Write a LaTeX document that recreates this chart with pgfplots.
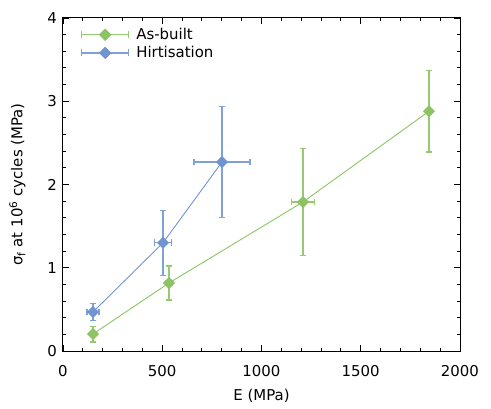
\documentclass[border=0pt]{standalone}
\usepackage{pgfplots}
\pgfplotsset{compat=1.18}
\usepackage{fontspec}
\setmainfont{DejaVu Sans}
\definecolor{cg}{RGB}{140,196,100}
\definecolor{cb}{RGB}{112,148,210}
\definecolor{cge}{RGB}{150,202,114}
\definecolor{cbe}{RGB}{128,160,216}
\newcommand{\fs}{\fontsize{15}{18}\selectfont}
\begin{document}
\fs
\begin{tikzpicture}
\begin{axis}[
  name=ax,
  scale only axis, width=397bp, height=333bp,
  xmin=0, xmax=2000, ymin=0, ymax=4,
  xtick={0,500,1000,1500,2000}, ytick={0,1,2,3,4},
  minor x tick num=4, minor y tick num=4,
  tick align=inside, tick pos=both,
  major tick length=6bp, minor tick length=3.5bp,
  tick style={line width=0.9bp, black},
  axis line style={line width=1bp},
  /pgf/number format/assume math mode=true,
  scaled ticks=false,
  xticklabel style={/pgf/number format/1000 sep={}, yshift=-9bp},
  yticklabel style={xshift=-1bp},
  tick label style={font=\fs},
  label style={font=\fs},
  xlabel={E (MPa)},
  ylabel={σ\textsubscript{f} at 10\textsuperscript{6} cycles (MPa)},
  xlabel style={at={(rel axis cs:0.5,-0.135)}, anchor=center},
  ylabel style={at={(rel axis cs:-0.115,0.5)}, anchor=center},
  legend style={draw=none, fill=none, at={([shift={(18bp,-9bp)}]rel axis cs:0,1)}, anchor=north west, font=\fs, row sep=2.5bp, column sep=6bp, inner sep=0pt, outer sep=0pt, nodes={inner sep=1bp}},
  legend cell align=left,
]
\addplot+[color=cg, mark=square*, mark size=4.1bp, mark options={fill=cg, draw=cg, rotate=45, line width=0.1bp}, line width=0.9bp,
  legend image code/.code={
    \draw[cge, line width=1.3bp] (0bp,0bp) -- (47bp,0bp);
    \draw[cge, line width=1.3bp] (0bp,-3.4bp) -- (0bp,3.4bp);
    \draw[cge, line width=1.3bp] (47bp,-3.4bp) -- (47bp,3.4bp);
    \fill[cg] (23.5bp,5.6bp) -- (29.1bp,0bp) -- (23.5bp,-5.6bp) -- (17.9bp,0bp) -- cycle;
  },
  error bars/.cd, x dir=both, y dir=both, x explicit, y explicit,
  error bar style={cge, line width=1.2bp}, error mark options={rotate=90, mark size=3.3bp, line width=1.2bp, cge}]
  coordinates {
  (151,0.204) +- (8,0.095)
  (534,0.817) +- (15,0.205)
  (1209,1.79) +- (58,0.64)
  (1844,2.88) +- (8,0.49)
  };
\addlegendentry{As-built}
\addplot+[color=cb, mark=square*, mark size=4.1bp, mark options={fill=cb, draw=cb, rotate=45, line width=0.1bp}, line width=0.9bp,
  legend image code/.code={
    \draw[cbe, line width=1.3bp] (0bp,0bp) -- (47bp,0bp);
    \draw[cbe, line width=1.3bp] (0bp,-3.4bp) -- (0bp,3.4bp);
    \draw[cbe, line width=1.3bp] (47bp,-3.4bp) -- (47bp,3.4bp);
    \fill[cb] (23.5bp,5.6bp) -- (29.1bp,0bp) -- (23.5bp,-5.6bp) -- (17.9bp,0bp) -- cycle;
  },
  error bars/.cd, x dir=both, y dir=both, x explicit, y explicit,
  error bar style={cbe, line width=1.2bp}, error mark options={rotate=90, mark size=3.3bp, line width=1.2bp, cbe}]
  coordinates {
  (151,0.468) +- (30,0.10)
  (504,1.30) +- (42,0.39)
  (801,2.27) +- (141,0.665)
  };
\addlegendentry{Hirtisation}
\end{axis}
\pgfresetboundingbox
\path ([shift={(-63bp,-58bp)}]ax.south west) rectangle ([shift={(31bp,18bp)}]ax.north east);
\end{tikzpicture}
\end{document}
